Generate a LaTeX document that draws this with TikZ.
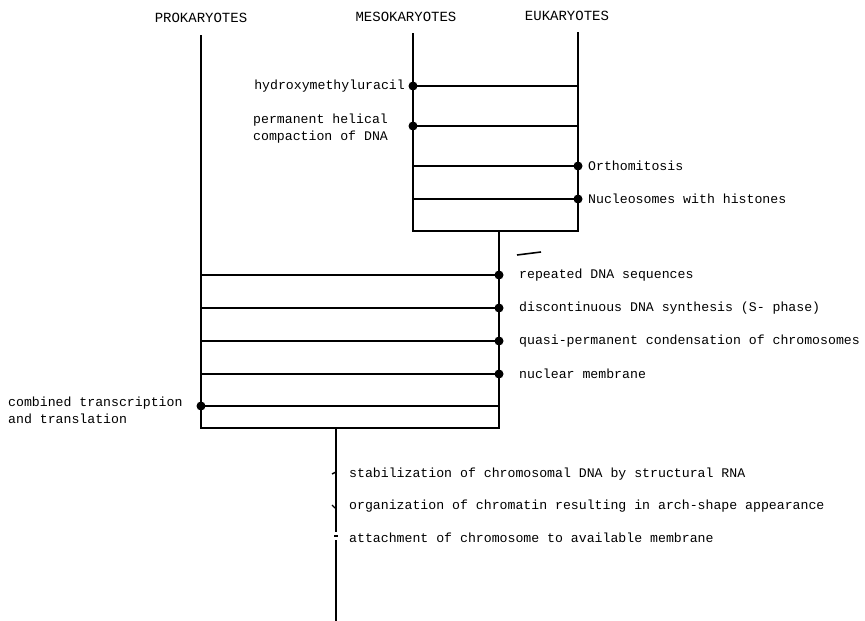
\documentclass[tikz,border=0pt]{standalone}
\usepackage{fontspec}
\setmonofont{Liberation Mono}
\begin{document}
\begin{tikzpicture}[x=1pt,y=-1pt,
  ln/.style={line width=1.8pt},
  thin/.style={line width=1.4pt},
  dot/.style={circle,fill=black,inner sep=0pt,minimum size=9pt},
  lab/.style={font=\fontsize{13.2}{17}\selectfont\ttfamily,inner sep=0pt},
  labL/.style={lab,anchor=west},
  labR/.style={lab,anchor=east},
  head/.style={font=\fontsize{14}{16}\selectfont\ttfamily,inner sep=0pt}]
\useasboundingbox (0,0) rectangle (865,621);
% headings
\node[head] (hp) at (201,18) {PROKARYOTES};
\node[head] (hm) at (406,17) {MESOKARYOTES};
\node[head] (he) at (567,16) {EUKARYOTES};
% key points
\coordinate (pt) at (201,35);
\coordinate (mt) at (413,33);
\coordinate (et) at (578,32);
\coordinate (mb) at (413,231);
\coordinate (eb) at (578,231);
\coordinate (st) at (499,231);
\coordinate (pb) at (201,428);
\coordinate (sb) at (499,428);
\coordinate (qt) at (336,428);
\coordinate (qm1) at (336,532);
\coordinate (qm2) at (336,540);
\coordinate (qb) at (336,621);
% meso/eu box rungs
\foreach \n/\y in {1/86,2/126,3/166,4/199}{
  \coordinate (m\n) at (413,\y);
  \coordinate (e\n) at (578,\y);
  \draw[thin] (m\n) -- (e\n);
}
% pro box rungs
\foreach \n/\y in {1/275,2/308,3/341,4/374,5/406}{
  \coordinate (p\n) at (201,\y);
  \coordinate (s\n) at (499,\y);
  \draw[thin] (p\n) -- (s\n);
}
% frames
\draw[ln] (mt) -- (mb) -- (eb) -- (et);
\draw[ln] (pt) -- (pb) -- (sb) -- (st);
\draw[ln] (qt) -- (qm1);
\draw[ln] (qm2) -- (qb);
% small marks
\coordinate (k1a) at (332,474); \coordinate (k1b) at (336,472);
\draw[thin] (k1a) -- (k1b);
\coordinate (k2a) at (332,505); \coordinate (k2b) at (335,508);
\draw[thin] (k2a) -- (k2b);
\coordinate (k3a) at (334,536); \coordinate (k3b) at (338,536);
\draw[thin] (k3a) -- (k3b);
\coordinate (sa) at (517,255); \coordinate (sbb) at (541,252);
\draw[line width=1.6pt] (sa) -- (sbb);
% dots
\node[dot] at (m1) {};
\node[dot] at (m2) {};
\node[dot] at (e3) {};
\node[dot] at (e4) {};
\node[dot] at (s1) {};
\node[dot] at (s2) {};
\node[dot] at (s3) {};
\node[dot] at (s4) {};
\node[dot] at (p5) {};
% labels
\node[labR] (l1) at (405,86) {hydroxymethyluracil};
\node[lab,anchor=north west,align=left] (l2) at (253,114) {permanent helical\\compaction of DNA};
\node[labL] (l3) at (588,166) {Orthomitosis};
\node[labL] (l4) at (588,199) {Nucleosomes with histones};
\node[labL] (l5) at (519,275) {repeated DNA sequences};
\node[labL] (l6) at (519,308) {discontinuous DNA synthesis (S- phase)};
\node[labL] (l7) at (519,341) {quasi-permanent condensation of chromosomes};
\node[labL] (l8) at (519,374) {nuclear membrane};
\node[lab,anchor=north west,align=left] (l9) at (8,397) {combined transcription\\and translation};
\node[labL] (l10) at (349,474) {stabilization of chromosomal DNA by structural RNA};
\node[labL] (l11) at (349,506) {organization of chromatin resulting in arch-shape appearance};
\node[labL] (l12) at (349,538) {attachment of chromosome to available membrane};
\end{tikzpicture}
\end{document}
